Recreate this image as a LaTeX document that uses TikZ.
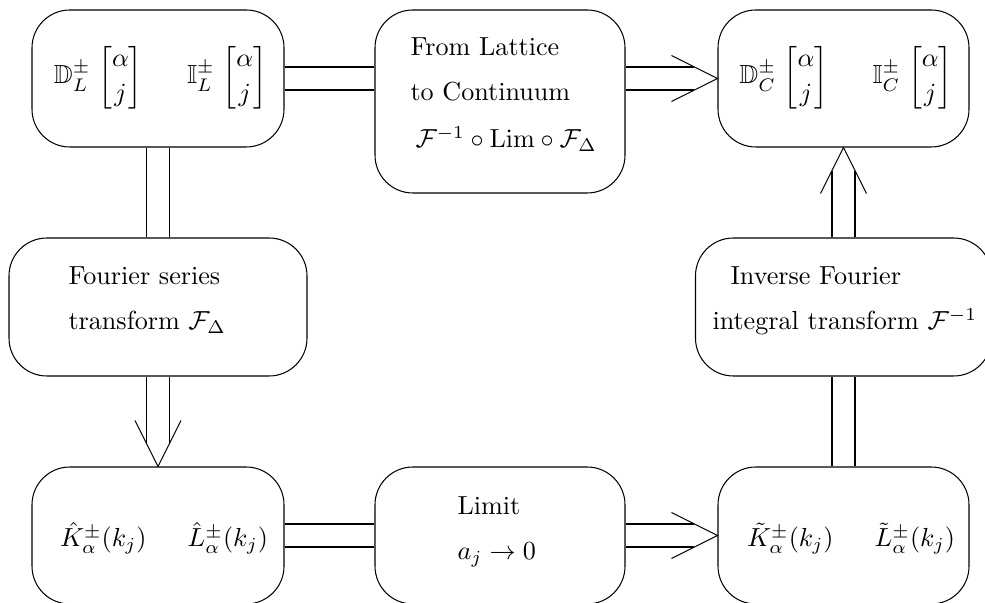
\documentclass[tikz,border=0pt]{standalone}
\usepackage{amsmath,amssymb}
\usetikzlibrary{calc}
\begin{document}
\begin{tikzpicture}[x=0.383pt,y=-0.383pt,
  box/.style={draw, rounded corners=14.5pt, inner sep=0pt},
  lbl/.style={anchor=base west, inner sep=0pt},
  mth/.style={anchor=base, inner sep=0pt},
  conn/.style={line width=0.4pt}]
\useasboundingbox (0,0) rectangle (985,603);
% boxes
\node[box, minimum width=96.52pt, minimum height=52.47pt] (tl) at (158,78.5) {};
\node[box, minimum width=95.75pt, minimum height=70.09pt] (tm) at (500,101.5) {};
\node[box, minimum width=96.13pt, minimum height=52.47pt] (tr) at (843.5,78.5) {};
\node[box, minimum width=114.13pt, minimum height=52.85pt] (fl) at (158,307) {};
\node[box, minimum width=113.37pt, minimum height=52.85pt] (fr) at (843.5,307) {};
\node[box, minimum width=96.52pt, minimum height=52.47pt] (bl) at (158,535.5) {};
\node[box, minimum width=95.75pt, minimum height=52.47pt] (bm) at (500,535.5) {};
\node[box, minimum width=96.13pt, minimum height=52.47pt] (br) at (843.5,535.5) {};
% texts
\node[mth] (tltext) at (160.5,84) {$\displaystyle\mathbb{D}^{\pm}_{L}\hskip3pt\genfrac{[}{]}{0pt}{}{\alpha}{j}\hskip17pt\mathbb{I}^{\pm}_{L}\hskip3pt\genfrac{[}{]}{0pt}{}{\alpha}{j}$};
\node[mth] (trtext) at (846,84) {$\displaystyle\mathbb{D}^{\pm}_{C}\hskip3pt\genfrac{[}{]}{0pt}{}{\alpha}{j}\hskip17pt\mathbb{I}^{\pm}_{C}\hskip3pt\genfrac{[}{]}{0pt}{}{\alpha}{j}$};
\node[lbl] (tm1) at (410,56) {From Lattice};
\node[lbl] (tm2) at (410,101) {to Continuum};
\node[lbl] (tm3) at (415,148) {$\mathcal{F}^{-1}\circ\mathrm{Lim}\circ\mathcal{F}_{\Delta}$};
\node[lbl] (fl1) at (68,285) {Fourier series};
\node[lbl] (fl2) at (68,330) {transform $\mathcal{F}_{\Delta}$};
\node[lbl] (fr1) at (730,285) {Inverse Fourier};
\node[lbl] (fr2) at (712,330) {integral transform $\mathcal{F}^{-1}$};
\node[mth] (bltext) at (164,547) {$\hat{K}^{\pm}_{\alpha}(k_j)\hskip15.7pt\hat{L}^{\pm}_{\alpha}(k_j)$};
\node[mth] (brtext) at (851,547) {$\tilde{K}^{\pm}_{\alpha}(k_j)\hskip15.7pt\tilde{L}^{\pm}_{\alpha}(k_j)$};
\node[lbl] (bm1) at (457,515) {Limit};
\node[lbl] (bm2) at (457,560) {$a_j\to 0$};
% double connectors
\foreach \s in {-11.5,11.5}{
  \draw[conn] ($(tl.east)+(0,\s)$) -- ($(tm.west |- tl.east)+(0,\s)$);
  \draw[conn] ($(tm.east |- tl.east)+(0,\s)$) -- ($(tr.west)+(-23,\s)$);
  \draw[conn] ($(tl.south)+(\s,0)$) -- ($(fl.north)+(\s,0)$);
  \draw[conn] ($(fl.south)+(\s,0)$) -- ($(bl.north)+(\s,-23)$);
  \draw[conn] ($(bl.east)+(0,\s)$) -- ($(bm.west)+(0,\s)$);
  \draw[conn] ($(bm.east)+(0,\s)$) -- ($(br.west)+(-23,\s)$);
  \draw[conn] ($(br.north)+(\s,0)$) -- ($(fr.south)+(\s,0)$);
  \draw[conn] ($(fr.north)+(\s,0)$) -- ($(tr.south)+(\s,23)$);
}
% open arrow heads
\draw[conn] ($(tr.west)+(-46,-23)$) -- (tr.west) -- ($(tr.west)+(-46,23)$);
\draw[conn] ($(br.west)+(-46,-23)$) -- (br.west) -- ($(br.west)+(-46,23)$);
\draw[conn] ($(bl.north)+(-23,-46)$) -- (bl.north) -- ($(bl.north)+(23,-46)$);
\draw[conn] ($(tr.south)+(-23,46)$) -- (tr.south) -- ($(tr.south)+(23,46)$);
\end{tikzpicture}
\end{document}
